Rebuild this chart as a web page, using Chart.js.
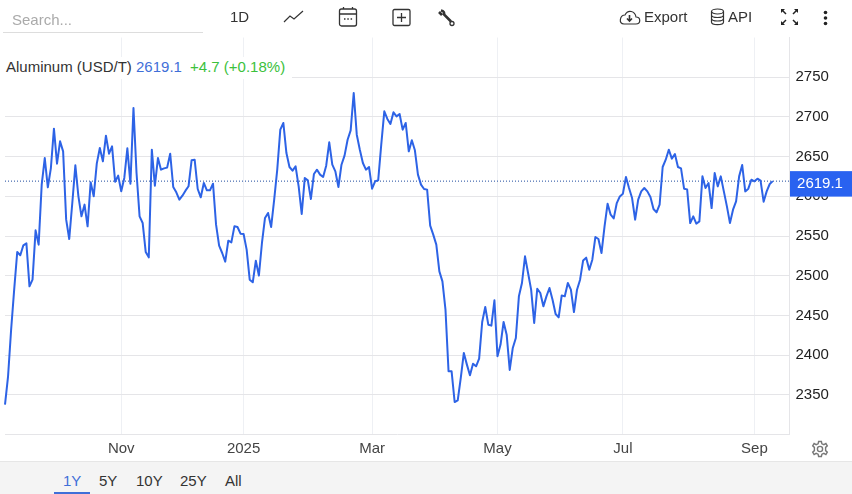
<!DOCTYPE html>
<html>
<head>
<meta charset="utf-8">
<title>Aluminum</title>
<script src="https://cdn.jsdelivr.net/npm/chart.js@4"></script>
<style>
    html, body { margin: 0; padding: 0; background: #fff; overflow: hidden; }
    body { width: 852px; height: 494px; position: relative; font-family: "Liberation Sans", Arial, sans-serif; color: #333; }
    .wrap { position: absolute; left: 0; top: 0; width: 852px; height: 461px; }
    .abs { position: absolute; white-space: nowrap; line-height: 20px; font-size: 15px; }
    .abs svg { display: block; }
    #search { left: 12px; top: 10px; color: #aaa; }
    #searchLine { left: 3px; top: 32px; width: 200px; height: 1px; background: #ddd; }
    #legendBox { left: 5px; top: 57px; width: 287px; height: 21.5px; background: #fff; }
    #legend { left: 6px; top: 57px; }
    #legend .val { color: #3f6fd8; }
    #legend .chg { color: #3cc13c; margin-left: 4px; }
    #strip { left: 0; top: 461px; width: 852px; height: 33px; background: #f4f4f4; border-top: 1px solid #e6e6e6; box-sizing: border-box; }
    #rangeLine { left: 54px; top: 492px; width: 36px; height: 2px; background: #3f6fd8; }
    .range { top: 471px; }
</style>
</head>
<body>
<div class="wrap"><canvas id="chart" width="852" height="461"></canvas></div>

<div class="abs" id="search">Search...</div>
<div class="abs" id="searchLine"></div>
<div class="abs" style="left:230px;top:7px">1D</div>
<div class="abs" style="left:283px;top:9px"><svg width="21" height="15" fill="none" stroke="#333" stroke-width="1.2"><path d="M1 13 L7 7 L11 10 L20 2"/></svg></div>
<div class="abs" style="left:338px;top:6px"><svg width="20" height="21" fill="none" stroke="#333" stroke-width="1.3"><rect x="1.5" y="3" width="17" height="17" rx="2"/><path d="M1.5 8 H18.5 M5.5 1 V3 M14.5 1 V3"/><path d="M6 13 h1.5 M9.3 13 h1.5 M12.6 13 h1.5" stroke-width="1.5"/></svg></div>
<div class="abs" style="left:392px;top:8px"><svg width="19" height="19" fill="none" stroke="#333" stroke-width="1.3"><rect x="1" y="1.5" width="17" height="16" rx="1.5"/><path d="M9.5 5 V14 M5 9.5 H14"/></svg></div>
<div class="abs" style="left:437px;top:9px"><svg width="19" height="19" fill="none" stroke="#333"><path d="M2 3 L5 6 M4 1.5 C7 2 7.5 4 7 5.5 L14 12.5" stroke-width="2.6"/><circle cx="15" cy="14.5" r="2" stroke-width="1.3"/></svg></div>
<div class="abs" style="left:618px;top:9px"><svg width="23" height="16" fill="none" stroke="#333" stroke-width="1.2"><path d="M6 15 H18 C23 15 23 8 18 8 C17 2 10 0 7 6 C2 6 0 15 6 15 Z"/><path d="M11.5 6 V12 M9 9.5 L11.5 12 L14 9.5" stroke-width="1.6"/></svg></div>
<div class="abs" style="left:644px;top:7px">Export</div>
<div class="abs" style="left:710px;top:8px"><svg width="15" height="18" fill="none" stroke="#333" stroke-width="1.2"><ellipse cx="7.5" cy="3.5" rx="6" ry="2.5"/><path d="M1.5 3.5 V14 C1.5 17.5 13.5 17.5 13.5 14 V3.5 M1.5 7 C1.5 10.3 13.5 10.3 13.5 7 M1.5 10.5 C1.5 13.8 13.5 13.8 13.5 10.5"/></svg></div>
<div class="abs" style="left:728px;top:7px">API</div>
<div class="abs" style="left:780px;top:8px"><svg width="19" height="18" fill="#222" stroke="#222" stroke-width="1.5"><path d="M2 2 L6 6 M17 2 L13 6 M2 16 L6 12 M17 16 L13 12"/><path d="M1 1 h4 l-4 4 Z M18 1 h-4 l4 4 Z M1 17 h4 l-4 -4 Z M18 17 h-4 l4 -4 Z" stroke="none"/></svg></div>
<div class="abs" style="left:823px;top:10px"><svg width="5" height="16" fill="#222"><circle cx="2.5" cy="2.5" r="1.8"/><circle cx="2.5" cy="8" r="1.8"/><circle cx="2.5" cy="13.5" r="1.8"/></svg></div>

<div class="abs" id="legendBox"></div>
<div class="abs" id="legend">Aluminum (USD/T)<span class="val"> 2619.1</span><span class="chg"> +4.7 (+0.18%)</span></div>

<div class="abs" style="left:811px;top:440px"><svg width="18" height="18" fill="none" stroke="#777" stroke-width="1.4"><circle cx="9" cy="9" r="2.6"/><path d="M7.6 1.5 H10.4 L10.9 3.8 L12.9 4.7 L14.9 3.4 L16.3 5.8 L14.6 7.4 V10.6 L16.3 12.2 L14.9 14.6 L12.9 13.3 L10.9 14.2 L10.4 16.5 H7.6 L7.1 14.2 L5.1 13.3 L3.1 14.6 L1.7 12.2 L3.4 10.6 V7.4 L1.7 5.8 L3.1 3.4 L5.1 4.7 L7.1 3.8 Z"/></svg></div>

<div class="abs" id="strip"></div>
<div class="abs" id="rangeLine"></div>
<div class="abs range" style="left:63px;color:#3f6fd8">1Y</div>
<div class="abs range" style="left:99px">5Y</div>
<div class="abs range" style="left:136px">10Y</div>
<div class="abs range" style="left:180px">25Y</div>
<div class="abs range" style="left:225px">All</div>

<script>
// Daily close
const prices = [
    2337.6, 2373.3, 2432, 2482.4, 2529.9, 2525.7, 2538.3, 2540.8, 2486.6, 2495,
    2557.1, 2539.1, 2614.7, 2648.2, 2611.3, 2635.6, 2685.2, 2641.1, 2669.2, 2656.6,
    2570.6, 2546.2, 2591.6, 2639, 2600, 2574.8, 2589.5, 2562.2, 2617.6, 2600,
    2641.1, 2660.8, 2644, 2676.4, 2653.7, 2662.9, 2618.4, 2626, 2606.3, 2623.1,
    2660.4, 2615.9, 2711.2, 2629.3, 2574.8, 2566.4, 2529.9, 2523.1, 2658.7, 2613.4,
    2648.2, 2633.5, 2635.2, 2636.1, 2653.7, 2611.7, 2605, 2595.8, 2600.8, 2607.1,
    2612.6, 2645.3, 2646.1, 2609.2, 2598.7, 2616.8, 2607.5, 2607.5, 2615.9, 2564.3,
    2537.8, 2528.6, 2517.7, 2544.1, 2542, 2562.2, 2561.3, 2552.9, 2552.5, 2532.8,
    2495, 2491.7, 2518.9, 2500.1, 2541.2, 2572.7, 2579, 2561.3,
    2595.8, 2633.5, 2683.9, 2692.3, 2654.5, 2636.9, 2632.3, 2637.7, 2612.6, 2577.7,
    2623.1, 2620.1, 2596.6, 2628.1, 2633.5, 2627.3, 2624.3, 2638.6, 2668, 2639.8,
    2631.4, 2611.7, 2639.8, 2651.2, 2671.3, 2683.1, 2730.1, 2677.6, 2658.7, 2641.9,
    2633.5, 2636.9, 2609.6, 2618.9, 2620.1, 2665, 2707, 2697.4, 2691.1, 2705.8,
    2700.7, 2703.7, 2683.9, 2692.3, 2656.6, 2670.5, 2657.9, 2627.3, 2614.7, 2609.2,
    2608.4, 2563, 2551.7, 2539.1, 2505.5, 2492.9, 2457.2, 2379.6, 2379.6, 2340.9,
    2343, 2371.2, 2402.7, 2388, 2374.5, 2389.2, 2385.9, 2395.5, 2441.7, 2460.6,
    2438.3, 2437.1, 2469, 2398.5, 2413.2, 2441.7, 2425.7, 2381.3, 2409, 2421.5,
    2474, 2490.8, 2524.4, 2503.4, 2482.4, 2440.4,
    2483.6, 2478.2, 2461.4, 2474, 2484.5, 2469.8, 2451.7, 2447.5, 2475.2, 2474,
    2490.8, 2482.4, 2454.2, 2482.4, 2495, 2519.3, 2522.7, 2507.5, 2520.1, 2548.7,
    2546.2, 2528.5, 2562.1, 2590.7, 2576.8, 2572.2, 2591.5, 2599.9, 2603.3,
    2624.3, 2610.4, 2597.8, 2570.5, 2595.7, 2606.2, 2610.4, 2606.2, 2599.1, 2584,
    2579.8, 2589.4, 2636.9, 2646.1, 2658.7, 2647.4, 2653.2, 2636.9, 2635.2, 2609.6,
    2608.7, 2566.3, 2574.7, 2565.5, 2568.4, 2625.1, 2610.4, 2616.7, 2585.2, 2629.3,
    2612.5, 2625.1, 2606.2, 2587.3, 2566.3, 2583.1, 2593.6, 2625.1, 2639.4, 2606.2,
    2609.6, 2620.9, 2618.8, 2622.2, 2619.7, 2593.2, 2606.2, 2615.5, 2619.1
];
const lastPrice = 2619.1;
const monthTicks = [38, 78, 120, 161, 202, 245];
const monthLabels = ['Nov', '2025', 'Mar', 'May', 'Jul', 'Sep'];
const priceTicks = [2350, 2400, 2450, 2500, 2550, 2600, 2650, 2700, 2750];
const priceMin = 2300;
const priceMax = 2800;
const indexMax = 256.3;

const lineColor = '#2d63e6';
const gridColor = '#e5e5e8';
const tickFont = { family: '"Liberation Sans", Arial, sans-serif', size: 15 };

// Blue box with the last price on the right axis
const lastPriceLabel = {
    id: 'lastPriceLabel',
    afterDraw(chart) {
        const y = chart.scales.y.getPixelForValue(lastPrice);
        const c = chart.ctx;
        c.save();
        c.fillStyle = '#2962f0';
        c.fillRect(790, y - 10, 62, 25.5);
        c.fillStyle = '#fff';
        c.font = '15px "Liberation Sans", Arial, sans-serif';
        c.textAlign = 'center';
        c.textBaseline = 'middle';
        c.fillText(lastPrice.toFixed(1), 820, y + 3);
        c.restore();
    }
};

new Chart(document.getElementById('chart'), {
    type: 'line',
    data: {
        datasets: [{
            data: prices.map((p, i) => ({ x: i, y: p })),
            borderColor: lineColor,
            borderWidth: 2,
            borderJoinStyle: 'round',
            pointRadius: 0,
            tension: 0,
            clip: false
        }, {
            data: [{ x: 0, y: lastPrice }, { x: indexMax, y: lastPrice }],
            borderColor: '#1d4a9e',
            borderWidth: 1,
            borderDash: [1, 2],
            pointRadius: 0
        }]
    },
    options: {
        responsive: false,
        animation: false,
        layout: { padding: { left: 5, top: 37.5 } },
        plugins: { legend: { display: false }, tooltip: { enabled: false } },
        scales: {
            x: {
                type: 'linear',
                min: 0,
                max: indexMax,
                afterBuildTicks: scale => { scale.ticks = monthTicks.map(v => ({ value: v })); },
                afterFit: scale => { scale.height = 26.5; },
                ticks: {
                    autoSkip: false,
                    maxRotation: 0,
                    padding: 5,
                    color: '#444',
                    font: tickFont,
                    callback: v => monthLabels[monthTicks.indexOf(v)]
                },
                grid: { color: '#eef0f4', tickLength: 0, drawTicks: false },
                border: { color: gridColor }
            },
            y: {
                position: 'right',
                min: priceMin,
                max: priceMax,
                afterBuildTicks: scale => { scale.ticks = priceTicks.map(v => ({ value: v })); },
                afterFit: scale => { scale.width = 63; },
                ticks: {
                    padding: 6.5,
                    color: '#222',
                    font: tickFont,
                    callback: v => String(v)
                },
                grid: { color: gridColor, drawTicks: false },
                border: { color: gridColor }
            }
        }
    },
    plugins: [lastPriceLabel]
});
</script>
</body>
</html>
